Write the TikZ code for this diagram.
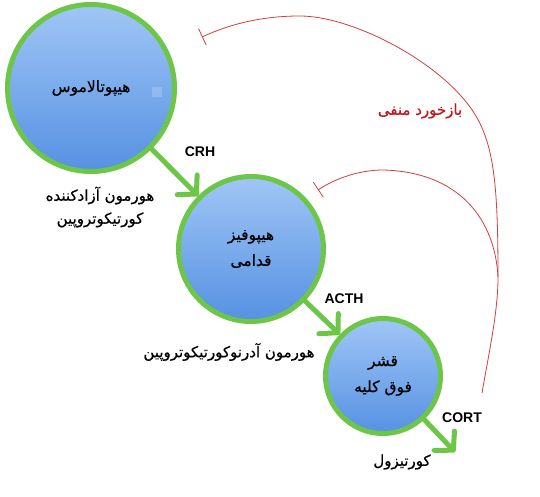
\documentclass[tikz,border=0pt]{standalone}
\usepackage{fontspec}
\setmainfont{Liberation Sans}
\newfontfamily\fa[Script=Arabic,FakeBold=0.6]{DejaVu Sans}
\TeXXeTstate=1
\usetikzlibrary{arrows.meta}
\definecolor{organgreen}{RGB}{110,198,72}
\definecolor{orgtop}{RGB}{160,198,246}
\definecolor{orgbot}{RGB}{86,145,226}
\definecolor{fbred}{RGB}{212,60,64}
\definecolor{fbtext}{RGB}{196,20,28}
\tikzset{
  organ/.style={circle, draw=organgreen, line width=5pt, top color=orgtop, bottom color=orgbot,
    inner sep=0pt, align=center, font=\fa\fontsize{15.5}{26}\selectfont},
  flow/.style={draw=organgreen, line width=5pt, line cap=round,
    -{Straight Barb[length=13pt,width=28pt,round]}},
  hormone/.style={font=\bfseries\fontsize{14}{16}\selectfont},
  fatext/.style={font=\fa\fontsize{15}{23}\selectfont, align=center},
  feedback/.style={draw=fbred, line width=0.8pt, -{Bar[width=18pt]}}
}
\begin{document}
\begin{tikzpicture}[x=1pt,y=-1pt]
\useasboundingbox[fill=white] (0,0) rectangle (540,497);
% organs
\node[organ, minimum size=167pt] (hyp) at (91,88) {\beginR هیپوتالاموس\endR};
\node[fill=orgtop!70!white, minimum size=10pt, inner sep=0pt, opacity=0.35] (spot) at (157,92) {};
\node[organ, minimum size=145pt] (pit) at (251,249) {\beginR هیپوفیز\endR\\\beginR قدامی\endR};
\node[organ, minimum size=115pt] (adr) at (383,376) {\beginR قشر\endR\\\beginR فوق کلیه\endR};
% flow arrows
\coordinate (cortend) at (455,452);
\draw[flow] (hyp) -- (pit);
\draw[flow] (pit) -- (adr);
\draw[flow] (adr) -- (cortend);
% hormone labels
\node[hormone] (crh) at (200,152) {CRH};
\node[hormone] (acth) at (344,299) {ACTH};
\node[hormone] (cort) at (462,418) {CORT};
\node[fatext] (crhname) at (100,207) {\beginR هورمون آزادکننده\endR\\\beginR کورتیکوتروپین\endR};
\node[fatext] (acthname) at (229,352) {\beginR هورمون آدرنوکورتیکوتروپین\endR};
\node[fatext] (cortname) at (402,462) {\beginR کورتیزول\endR};
% negative feedback
\coordinate (fbend) at (482,393);
\coordinate (fbjoin) at (498,277);
\coordinate (fbmid) at (470,107);
\coordinate (fbtop) at (300,16);
\coordinate (fbout) at (202,37);
\coordinate (fbpeak) at (383,170);
\coordinate (fbin) at (318,190);
\draw[feedback] (fbend) .. controls (489,352) and (498,312) .. (fbjoin)
  .. controls (498,180) and (493.6,139.4) .. (fbmid)
  .. controls (434.6,58.4) and (350,16) .. (fbtop)
  .. controls (262,16) and (230,24) .. (fbout);
\draw[feedback] (fbjoin) .. controls (495,220) and (460,172) .. (fbpeak)
  .. controls (360,170) and (336,178) .. (fbin);
\node[fatext, text=fbtext] (fblabel) at (420,111) {\beginR بازخورد منفی\endR};
\end{tikzpicture}
\end{document}
